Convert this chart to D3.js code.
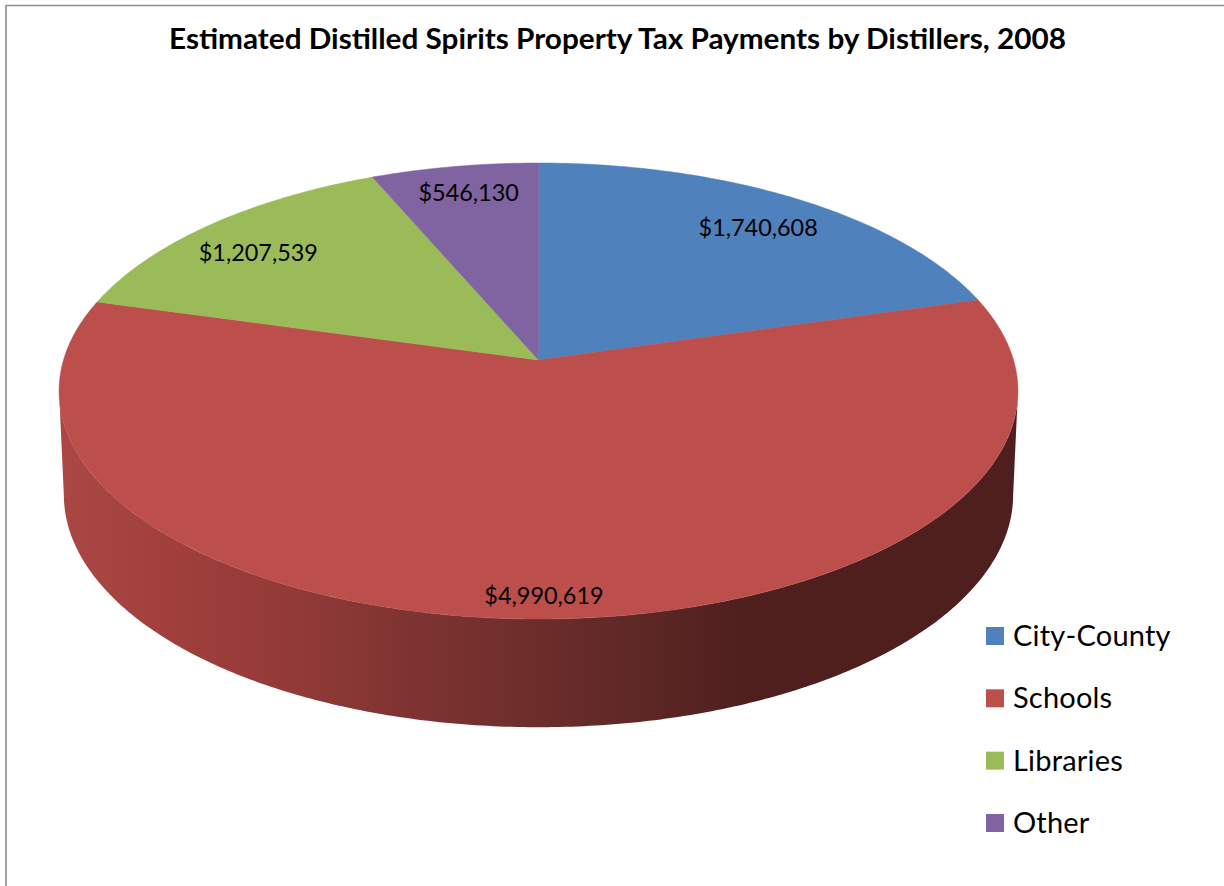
<!DOCTYPE html>
<html>
<head>
<meta charset="utf-8">
<script src="https://cdn.jsdelivr.net/npm/d3@7"></script>
<style>
  html, body { margin: 0; padding: 0; background: #fff; }
  svg { display: block; }
  text { font-family: Lato, "Open Sans", sans-serif; fill: #000; }
</style>
</head>
<body>
<div id="chart"></div>
<script>
// Data
const categories = ["City-County", "Schools", "Libraries", "Other"];
const payments = [1740608, 4990619, 1207539, 546130];
const sliceColors = ["#4F81BD", "#BC4F4C", "#9BBB59", "#8064A2"];
const chartTitle = "Estimated Distilled Spirits Property Tax Payments by Distillers, 2008";

// Constants
const width = 1224;
const height = 886;
const apexX = 538.5;
const apexY = 360;
const radiusX = 475;
const radiusY = 223.8;
const tilt = 0.136; // perspective, far edge of the disc is drawn smaller
const wallScaleX = 0.99;
const wallScaleY = 1.02;
const wallApexY = 463;

const svg = d3
  .select("#chart")
  .append("svg")
  .attr("width", width)
  .attr("height", height);

//-----------------------------FRAME-----------------------------//
svg.append("path")
  .attr("d", `M6,${height} V5.5 H${width}`)
  .attr("fill", "none")
  .attr("stroke", "#8e8e8e")
  .attr("stroke-width", 1.6);

svg.append("text")
  .attr("x", 617.5)
  .attr("y", 49)
  .attr("text-anchor", "middle")
  .attr("textLength", 897)
  .attr("lengthAdjust", "spacingAndGlyphs")
  .style("font-size", "29px")
  .style("font-weight", 700)
  .text(chartTitle);

//-----------------------------PIE-----------------------------//
const pie = d3.pie().sort(null).value((d) => d);
const arcs = pie(payments);

// theta runs clockwise from 12 o'clock, r is the share of the radius
function project(theta, r, scaleX = 1, scaleY = 1, originY = apexY) {
  const u = Math.sin(theta) * r;
  const v = Math.cos(theta) * r;
  const w = 1 + tilt * v;
  return [
    apexX + (radiusX * scaleX * u) / w,
    originY - (radiusY * scaleY * v) / w,
  ];
}

const line = d3.line();

function rim(start, end, scaleX, scaleY, originY) {
  const steps = Math.max(2, Math.ceil((end - start) * 90));
  return d3.range(steps + 1).map((i) =>
    project(start + ((end - start) * i) / steps, 1, scaleX, scaleY, originY)
  );
}

//-----------------------------WALL-----------------------------//
const wallStops = [
  { at: 0, color: "#AB4845" },
  { at: 0.12, color: "#A03F3C" },
  { at: 0.25, color: "#913A37" },
  { at: 0.36, color: "#7F3432" },
  { at: 0.5, color: "#6C2D2B" },
  { at: 0.6, color: "#5E2825" },
  { at: 0.72, color: "#4E1F1D" },
  { at: 1, color: "#4E1F1E" },
];

const gradient = svg
  .append("defs")
  .append("linearGradient")
  .attr("id", "wall")
  .attr("gradientUnits", "userSpaceOnUse")
  .attr("x1", 59)
  .attr("x2", 1018)
  .attr("y1", 0)
  .attr("y2", 0);

gradient
  .selectAll("stop")
  .data(wallStops)
  .enter()
  .append("stop")
  .attr("offset", (d) => d.at)
  .attr("stop-color", (d) => d.color);

const wallStart = Math.acos(-tilt);
const wallEnd = 2 * Math.PI - wallStart;
const wallPoints = rim(wallStart, wallEnd).concat(
  rim(wallStart, wallEnd, wallScaleX, wallScaleY, wallApexY).reverse()
);

svg.append("path")
  .attr("d", line(wallPoints) + "Z")
  .attr("fill", "url(#wall)");

//-----------------------------TOP------------------------------//
svg
  .selectAll(".slice")
  .data(arcs)
  .enter()
  .append("path")
  .attr("class", "slice")
  .attr("d", (d) => {
    const points = [[apexX, apexY]].concat(rim(d.startAngle, d.endAngle));
    return line(points) + "Z";
  })
  .attr("fill", (d, i) => sliceColors[i])
  .attr("stroke", (d, i) => sliceColors[i])
  .attr("stroke-width", 0.5);

//----------------------------LABELS----------------------------//
const labelRadius = [0.84, 0.93, 0.84, 0.85];
const labelNudge = [[0, 6], [3, -2], [-1, 8], [3, 0]];
const money = d3.format("$,");

svg
  .selectAll(".value-label")
  .data(arcs)
  .enter()
  .append("text")
  .attr("class", "value-label")
  .attr("transform", (d, i) => {
    const p = project((d.startAngle + d.endAngle) / 2, labelRadius[i]);
    return `translate(${p[0] + labelNudge[i][0]}, ${p[1] + labelNudge[i][1]})`;
  })
  .attr("text-anchor", "middle")
  .attr("dy", ".35em")
  .style("font-size", "23.4px")
  .text((d) => money(d.data));

//----------------------------LEGEND----------------------------//
const legendY = d3.scalePoint().domain(categories).range([636, 823]);

const legend = svg
  .selectAll(".legend-item")
  .data(categories)
  .enter()
  .append("g")
  .attr("class", "legend-item")
  .attr("transform", (d) => `translate(986, ${legendY(d)})`);

legend
  .append("rect")
  .attr("y", -9)
  .attr("width", 18)
  .attr("height", 18)
  .attr("fill", (d, i) => sliceColors[i]);

legend
  .append("text")
  .attr("x", 27)
  .attr("y", 10)
  .style("font-size", "29px")
  .style("letter-spacing", "0.2px")
  .text((d) => d);
</script>
</body>
</html>
